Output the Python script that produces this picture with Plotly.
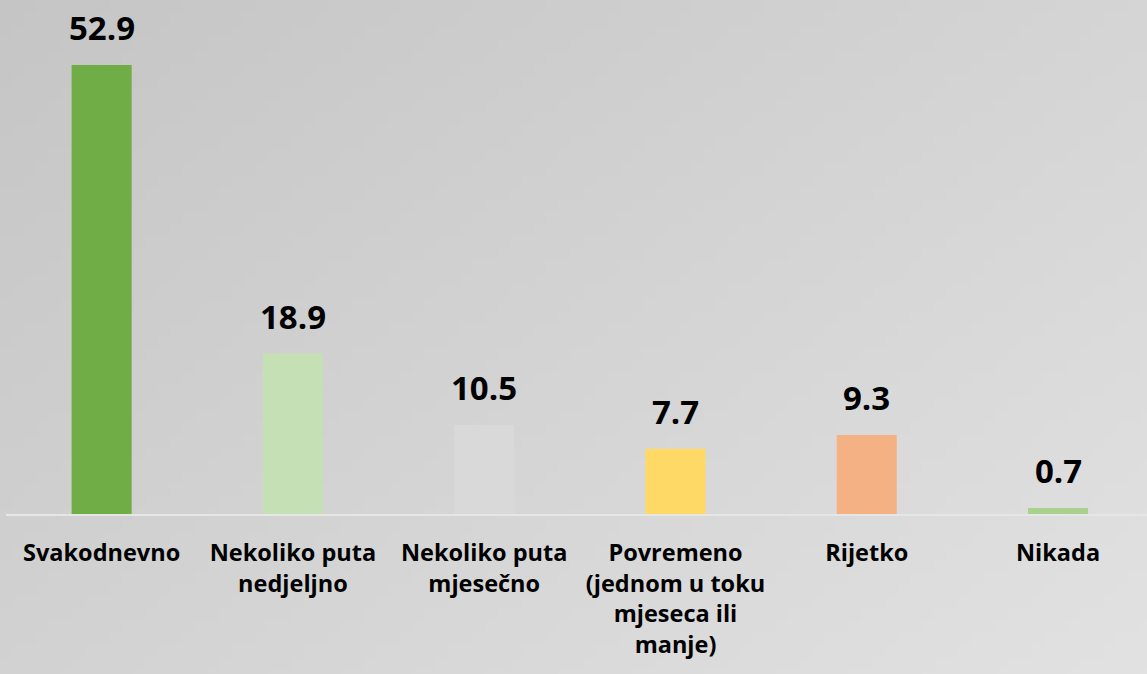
import base64, struct, zlib
import plotly.graph_objects as go

categories = ["Svakodnevno", "Nekoliko puta<br>nedjeljno", "Nekoliko puta<br>mjesečno",
              "Povremeno<br>(jednom u toku<br>mjeseca ili<br>manje)", "Rijetko", "Nikada"]
values = [52.9, 18.9, 10.5, 7.7, 9.3, 0.7]
value_labels = ["52.9", "18.9", "10.5", "7.7", "9.3", "0.7"]
colors = ["#70ad47", "#c5e0b4", "#d9d9d9", "#ffd966", "#f4b183", "#a9d18e"]

FONT = "Open Sans"


def gradient_png(w, h, c0, c1):
    rows = []
    for j in range(h):
        row = bytearray([0])
        for i in range(w):
            t = 0.55 * i / (w - 1) + 0.45 * j / (h - 1)
            v = int(round(c0 + (c1 - c0) * t))
            row += bytes([v, v, v])
        rows.append(bytes(row))
    raw = b"".join(rows)

    def chunk(tag, data):
        c = struct.pack(">I", len(data)) + tag + data
        return c + struct.pack(">I", zlib.crc32(tag + data) & 0xffffffff)

    png = b"\x89PNG\r\n\x1a\n" + chunk(b"IHDR", struct.pack(">IIBBBBB", w, h, 8, 2, 0, 0, 0))
    png += chunk(b"IDAT", zlib.compress(raw, 9)) + chunk(b"IEND", b"")
    return "data:image/png;base64," + base64.b64encode(png).decode()


fig = go.Figure()
fig.add_trace(go.Bar(
    x=categories, y=values, marker=dict(color=colors, line=dict(width=0)),
    width=0.314, hoverinfo="skip"))

for c, v, t in zip(categories, values, value_labels):
    fig.add_annotation(x=c, y=v, text="<b>" + t + "</b>", showarrow=False,
                       yanchor="bottom", yshift=13,
                       font=dict(family=FONT, size=33, color="#000000"))

fig.add_layout_image(dict(source=gradient_png(96, 56, 197, 226), xref="paper", yref="paper",
                          x=-0.01, y=1.0 + 0.01, sizex=1.02, sizey=1.35, xanchor="left",
                          yanchor="top", sizing="stretch", layer="below"))

fig.update_layout(
    width=1147, height=674,
    margin=dict(l=6, r=0, t=0, b=160),
    paper_bgcolor="#d6d6d6", plot_bgcolor="rgba(0,0,0,0)",
    showlegend=False,
    font=dict(family=FONT, color="#000000"),
)
fig.update_xaxes(range=[-0.5, 5.465], showline=True, linecolor="#e6e6e6", linewidth=2,
                 showgrid=False, zeroline=False, ticks="",
                 tickfont=dict(family=FONT, size=23.5, color="#000000", weight="bold"),
                 ticklabelstandoff=17, fixedrange=True)
fig.update_yaxes(range=[0, 60.56], visible=False, showgrid=False, zeroline=False, fixedrange=True)

fig.write_html("out.html", config={"displayModeBar": False},
               post_script="document.body.style.margin='0';document.body.style.overflow='hidden';")
